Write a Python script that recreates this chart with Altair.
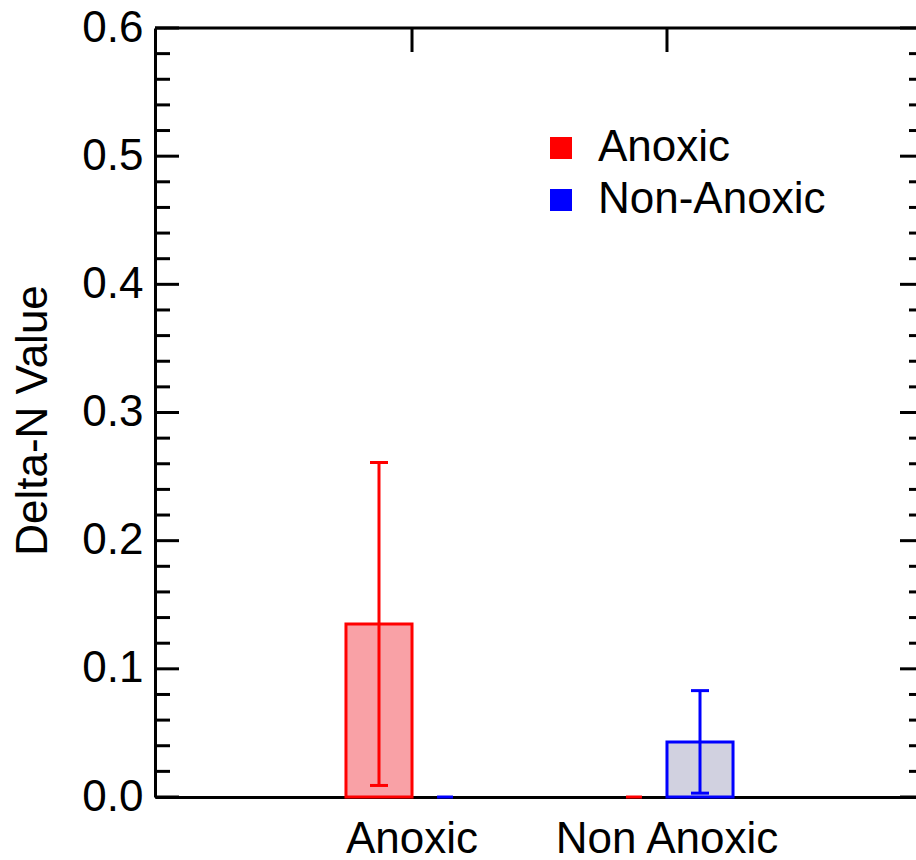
import altair as alt
import pandas as pd

# ---- data ----
groups = ["Anoxic", "Non Anoxic"]
series_names = ["Anoxic", "Non-Anoxic"]
anoxic_means = [0.135, 0.0]       # per group
anoxic_errs = [0.126, 0.0]
nonanoxic_means = [0.0, 0.043]
nonanoxic_errs = [0.0, 0.040]
y_major = [0.0, 0.1, 0.2, 0.3, 0.4, 0.5, 0.6]
y_minor = [round(i * 0.02, 2) for i in range(31) if i % 5 != 0]

stroke_colors = ["#FF0000", "#0000FF"]
fill_colors = ["#F9A1A6", "#D1D1E0"]

rows = []
for gi, g in enumerate(groups):
    for s, m_list, e_list in [(series_names[0], anoxic_means, anoxic_errs),
                              (series_names[1], nonanoxic_means, nonanoxic_errs)]:
        m, e = m_list[gi], e_list[gi]
        rows.append({"group": g, "series": s, "mean": m, "lo": m - e, "hi": m + e})
df = pd.DataFrame(rows)

W, H = 761, 769          # visible plot area
FULL = 769               # full plot width (right frame falls just off the canvas)
FONT = "Liberation Sans"

yscale = alt.Scale(domain=[0, 0.6], nice=False, zero=True)
yaxis = alt.Axis(values=y_major, format=".1f", labelFontSize=44, labelFont=FONT,
                 labelColor="#000", ticks=False, labelPadding=12, domain=True,
                 domainColor="#000", domainWidth=3, grid=False, labelOverlap=False,
                 title="Delta-N Value", titleFontSize=44, titleFont=FONT,
                 titleFontWeight="normal", titleColor="#000", titleX=-122, titleY=392,
                 titleAngle=-90, titleAlign="center", titleBaseline="middle")
xscale = alt.Scale(domain=groups, range=[0, FULL], paddingInner=0.482, paddingOuter=0.749)
xaxis = alt.Axis(title=None, labelFontSize=44, labelFont=FONT, labelColor="#000",
                 ticks=False, labelPadding=55, labelBaseline="alphabetic", labelAngle=0,
                 labelLimit=1000, domain=True, domainColor="#000", domainWidth=3, grid=False)
X = alt.X("group:N", sort=groups, scale=xscale, axis=xaxis)
XO = alt.XOffset("series:N", sort=series_names,
                 scale=alt.Scale(domain=series_names, paddingInner=0, paddingOuter=0))


def Y(field):
    return alt.Y(f"{field}:Q", scale=yscale, axis=yaxis)


color_scale = alt.Scale(domain=series_names, range=stroke_colors)
COLOR = alt.Color("series:N", scale=color_scale, legend=None)
is_a = f"datum.series == '{series_names[0]}'"

base = alt.Chart(df)

bars = base.transform_filter("datum.mean > 0").mark_bar(strokeWidth=3).encode(
    x=X, xOffset=XO, y=Y("mean"),
    fill=alt.condition(is_a, alt.value(fill_colors[0]), alt.value(fill_colors[1])),
    stroke=alt.condition(is_a, alt.value(stroke_colors[0]), alt.value(stroke_colors[1])),
)

zeros = base.transform_filter("datum.mean == 0").mark_tick(
    orient="horizontal", size=16, thickness=3, opacity=1).encode(
    x=X, xOffset=XO, y=Y("mean"), color=COLOR,
)

err = base.transform_filter("datum.hi > datum.lo").mark_rule(strokeWidth=3).encode(
    x=X, xOffset=XO, y=Y("lo"), y2="hi:Q", color=COLOR,
)
cap_hi = base.transform_filter("datum.hi > datum.lo").mark_tick(
    orient="horizontal", size=18, thickness=3, opacity=1).encode(
    x=X, xOffset=XO, y=Y("hi"), color=COLOR,
)
cap_lo = base.transform_filter("datum.hi > datum.lo").mark_tick(
    orient="horizontal", size=18, thickness=3, opacity=1).encode(
    x=X, xOffset=XO, y=Y("lo"), color=COLOR,
)

# ---- legend (drawn as marks: swatch + label per series) ----
legend_df = pd.DataFrame({"series": series_names})
legend_layers = []
for i, s in enumerate(series_names):
    row_y = 120 + 52 * i
    sel = alt.Chart(legend_df).transform_filter(f"datum.series == '{s}'")
    legend_layers.append(sel.mark_square(size=484, filled=True, opacity=1).encode(
        x=alt.value(406), y=alt.value(row_y), color=COLOR))
    legend_layers.append(sel.mark_text(fontSize=44, font=FONT, color="#000", align="left",
                                       baseline="middle").encode(
        x=alt.value(443), y=alt.value(row_y), text="series:N"))

# ---- frame and inward ticks ----
maj = alt.Chart(pd.DataFrame({"v": y_major}))
mnr = alt.Chart(pd.DataFrame({"v": y_minor}))
one = alt.Chart(pd.DataFrame({"v": [0.0]}))
rule_kw = dict(color="#000", strokeWidth=3)

left_major = maj.mark_rule(**rule_kw).encode(y=Y("v"), x=alt.value(0), x2=alt.value(24))
left_minor = mnr.mark_rule(**rule_kw).encode(y=Y("v"), x=alt.value(0), x2=alt.value(15))
right_major = maj.mark_rule(**rule_kw).encode(y=Y("v"), x=alt.value(FULL), x2=alt.value(FULL - 24))
right_minor = mnr.mark_rule(**rule_kw).encode(y=Y("v"), x=alt.value(FULL), x2=alt.value(FULL - 15))
top_ticks = alt.Chart(pd.DataFrame({"group": groups})).mark_rule(**rule_kw).encode(
    x=X, y=alt.value(0), y2=alt.value(24))
top_border = one.mark_rule(**rule_kw).encode(x=alt.value(0), x2=alt.value(FULL), y=alt.value(0))

chart = alt.layer(
    top_border, left_major, left_minor, right_major, right_minor, top_ticks,
    bars, zeros, err, cap_hi, cap_lo, *legend_layers,
).properties(
    width=W, height=H, autosize="none",
    padding={"left": 155, "top": 28, "right": 0, "bottom": 63},
).configure(background="white").configure_view(stroke=None)

chart.save("out.html", embed_options={"renderer": "svg", "actions": False})
